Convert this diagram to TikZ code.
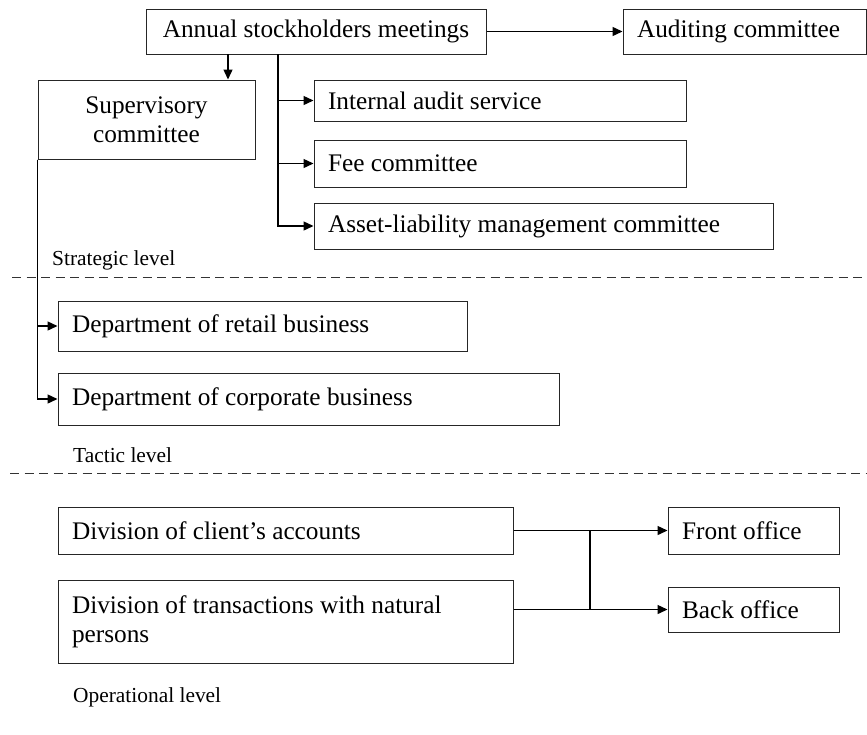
\documentclass[tikz,border=0pt]{standalone}
\usepackage{fontspec}
\setmainfont{Liberation Serif}
\usetikzlibrary{arrows.meta}
\tikzset{
  bx/.style={draw=black!85, line width=1pt, rectangle, inner ysep=0pt, inner xsep=14pt,
    font=\fontsize{25.3pt}{29pt}\selectfont, align=flush left},
  lvl/.style={anchor=west, inner sep=0pt, font=\fontsize{21.4pt}{25pt}\selectfont},
  conn/.style={line width=1.4pt, draw=black},
  arr/.style={conn, -{Triangle[length=10pt,width=9pt]}},
  lvline/.style={line width=1pt, draw=black!80, dash pattern=on 9pt off 5.5pt}
}
\begin{document}
\begin{tikzpicture}[x=1pt,y=-1pt]
\useasboundingbox (0,0) rectangle (867,734);
% boxes
\node[bx, align=flush center, minimum width=340pt, minimum height=45pt] (annual) at (316,31.5) {Annual stockholders meetings};
\node[bx, text width=215pt, minimum height=45pt] (audit) at (744.5,31.5) {Auditing committee};
\node[bx, align=flush center, text width=189pt, minimum height=79pt] (sup) at (146.5,119.5) {Supervisory\\committee};
\node[bx, text width=344pt, minimum height=41pt] (internal) at (500,100.5) {Internal audit service};
\node[bx, text width=344pt, minimum height=47pt] (fee) at (500,163.5) {Fee committee};
\node[bx, text width=431pt, minimum height=46pt] (asset) at (543.5,226) {Asset-liability management committee};
\node[bx, text width=381pt, minimum height=50pt] (retail) at (262.5,326) {Department of retail business};
\node[bx, text width=473pt, minimum height=52pt] (corp) at (308.5,399) {Department of corporate business};
\node[bx, text width=427pt, minimum height=47pt] (client) at (285.5,530.5) {Division of client’s accounts};
\node[bx, text width=427pt, minimum height=83pt] (trans) at (285.5,621.5) {Division of transactions with natural\\persons};
\node[bx, text width=143pt, minimum height=47pt] (front) at (753.5,530.5) {Front office};
\node[bx, text width=143pt, minimum height=45pt] (back) at (753.5,609.5) {Back office};
% level labels
\node[lvl] (strat) at (52,260) {Strategic level};
\node[lvl] (tact) at (73,455) {Tactic level};
\node[lvl] (oper) at (73,697) {Operational level};
% level separators
\coordinate (d1a) at (12,277);
\coordinate (d1b) at (867,277);
\coordinate (d2a) at (10,473);
\coordinate (d2b) at (867,473);
\draw[lvline] (d1a) -- (d1b);
\draw[lvline] (d2a) -- (d2b);
% connectors
\draw[arr] (annual.east) -- (audit.west);
\coordinate (a1) at (228,54);
\draw[arr] (a1) -- (a1 |- sup.north);
\coordinate (t1) at (278,54);
\draw[conn] (t1) -- (t1 |- asset.west);
\draw[arr] (t1) |- (internal.west);
\draw[arr] (t1) |- (fee.west);
\draw[arr] (t1) |- (asset.west);
\draw[conn] (sup.south west) -- (sup.south west |- corp.west);
\draw[arr] (sup.south west) |- (retail.west);
\draw[arr] (sup.south west) |- (corp.west);
\coordinate (j1) at (590,530.5);
\coordinate (j2) at (590,609.5);
\draw[arr] (client.east) -- (front.west);
\draw[arr] (trans.east |- back.west) -- (back.west);
\draw[conn] (j1) -- (j2);
\end{tikzpicture}
\end{document}
